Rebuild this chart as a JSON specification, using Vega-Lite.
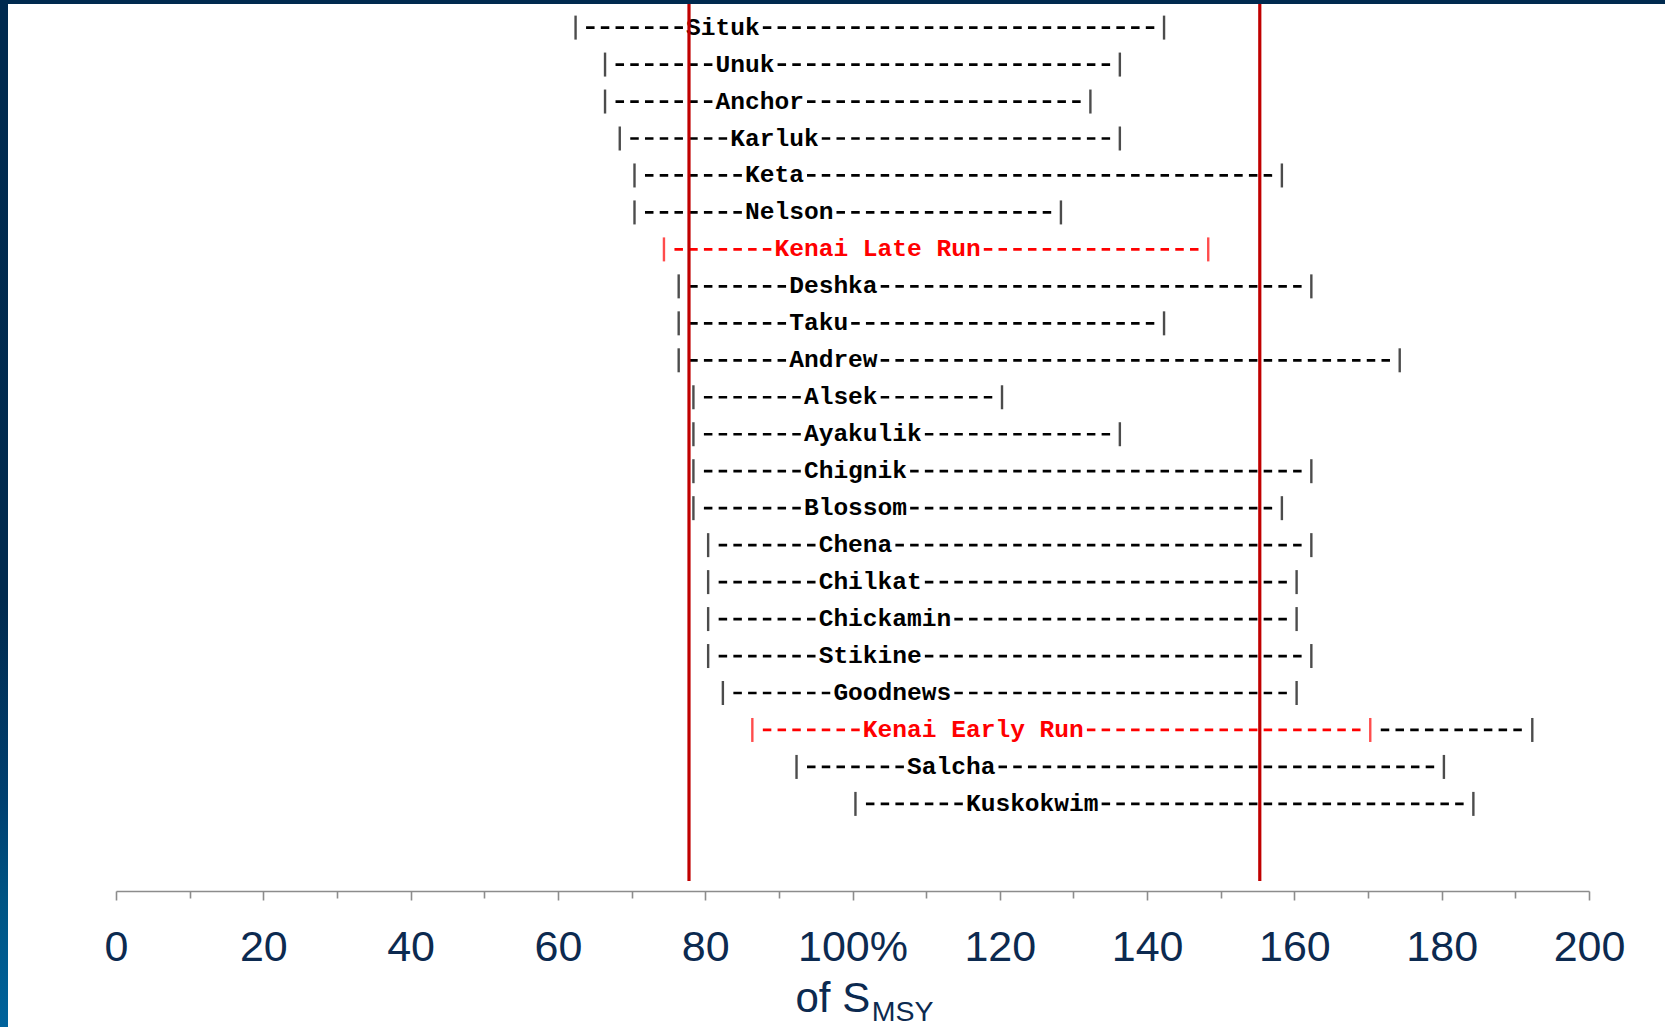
{
  "$schema": "https://vega.github.io/schema/vega-lite/v6.json",
  "padding": 0,
  "background": "white",
  "config": {"view": {"stroke": null}},
  "title": {"text": "MSY", "orient": "bottom", "anchor": "start", "frame": "group", "offset": 0, "baseline": "alphabetic", "dx": 871.7, "dy": -6.3, "font": "Liberation Sans", "fontSize": 28.5, "fontWeight": "normal", "color": "#0c2a50"},
  "spacing": 0,
  "bounds": "flush",
  "vconcat": [
    {
      "width": 1665, "height": 4,
      "data": {"values": [{}]},
      "mark": {"type": "rect", "color": "#002a4f"},
      "encoding": {}
    },
    {
      "spacing": 108,
      "bounds": "flush",
      "hconcat": [
        {
          "width": 8, "height": 1023,
          "data": {"values": [{}]},
          "mark": {"type": "rect", "color": {"gradient": "linear", "x1": 0, "y1": 0, "x2": 0, "y2": 1, "stops": [
            {"offset": 0, "color": "#002a4f"},
            {"offset": 0.58, "color": "#012a4e"},
            {"offset": 0.78, "color": "#004070"},
            {"offset": 0.88, "color": "#005585"},
            {"offset": 1, "color": "#00639c"}]}},
          "encoding": {}
        },
        {
          "width": 1473, "height": 877,
          "data": {"values": [
            {"name": "Situk", "lo": 62.4, "hi": 142.3, "ext": null, "highlight": "no"},
            {"name": "Unuk", "lo": 66.4, "hi": 136.3, "ext": null, "highlight": "no"},
            {"name": "Anchor", "lo": 66.4, "hi": 132.3, "ext": null, "highlight": "no"},
            {"name": "Karluk", "lo": 68.4, "hi": 136.3, "ext": null, "highlight": "no"},
            {"name": "Keta", "lo": 70.4, "hi": 158.3, "ext": null, "highlight": "no"},
            {"name": "Nelson", "lo": 70.4, "hi": 128.3, "ext": null, "highlight": "no"},
            {"name": "Kenai Late Run", "lo": 74.4, "hi": 148.3, "ext": null, "highlight": "yes"},
            {"name": "Deshka", "lo": 76.4, "hi": 162.3, "ext": null, "highlight": "no"},
            {"name": "Taku", "lo": 76.4, "hi": 142.3, "ext": null, "highlight": "no"},
            {"name": "Andrew", "lo": 76.4, "hi": 174.3, "ext": null, "highlight": "no"},
            {"name": "Alsek", "lo": 78.4, "hi": 120.3, "ext": null, "highlight": "no"},
            {"name": "Ayakulik", "lo": 78.4, "hi": 136.3, "ext": null, "highlight": "no"},
            {"name": "Chignik", "lo": 78.4, "hi": 162.3, "ext": null, "highlight": "no"},
            {"name": "Blossom", "lo": 78.4, "hi": 158.3, "ext": null, "highlight": "no"},
            {"name": "Chena", "lo": 80.4, "hi": 162.3, "ext": null, "highlight": "no"},
            {"name": "Chilkat", "lo": 80.4, "hi": 160.3, "ext": null, "highlight": "no"},
            {"name": "Chickamin", "lo": 80.4, "hi": 160.3, "ext": null, "highlight": "no"},
            {"name": "Stikine", "lo": 80.4, "hi": 162.3, "ext": null, "highlight": "no"},
            {"name": "Goodnews", "lo": 82.4, "hi": 160.3, "ext": null, "highlight": "no"},
            {"name": "Kenai Early Run", "lo": 86.4, "hi": 170.3, "ext": 192.3, "highlight": "yes"},
            {"name": "Salcha", "lo": 92.4, "hi": 180.3, "ext": null, "highlight": "no"},
            {"name": "Kuskokwim", "lo": 100.4, "hi": 184.3, "ext": null, "highlight": "no"}
          ]},
          "layer": [
            {
              "mark": {"type": "rule", "strokeWidth": 2.7, "strokeDash": [8.5, 6.23], "strokeDashOffset": 11.6, "xOffset": 7.365, "x2Offset": 110.5},
              "encoding": {
                "x": {"field": "lo", "type": "quantitative", "title": "of S", "scale": {"domain": [0, 200], "nice": false, "zero": false},
                  "axis": {
                    "values": [0, 10, 20, 30, 40, 50, 60, 70, 80, 90, 100, 110, 120, 130, 140, 150, 160, 170, 180, 190, 200],
                    "labelExpr": "datum.value % 20 ? '' : (datum.value === 100 ? '100%' : datum.label)",
                    "grid": false, "offset": 10,
                    "domainColor": "#8c8c8c", "domainWidth": 1.6,
                    "tickColor": "#8c8c8c", "tickWidth": 1.6,
                    "tickSize": {"condition": {"test": "datum.value % 20 === 0", "value": 9}, "value": 7},
                    "labelFont": "Liberation Sans", "labelFontSize": 43, "labelColor": "#0c2a50", "labelPadding": 26.5,
                    "labelFlush": false, "labelOverlap": false,
                    "titleFont": "Liberation Sans", "titleFontSize": 42, "titleFontWeight": "normal", "titleColor": "#0c2a50",
                    "titleX": 679, "titleY": 120, "titleAlign": "left", "titleBaseline": "alphabetic", "titleAnchor": null
                  }},
                "x2": {"field": "lo"},
                "y": {"field": "name", "type": "nominal", "sort": null, "axis": null, "scale": {"type": "point", "range": [23.6, 799.9], "padding": 0}},
                "color": {"field": "highlight", "type": "nominal", "legend": null, "scale": {"domain": ["no", "yes"], "range": ["#000000", "#ff0000"]}}
              }
            },
            {
              "transform": [{"calculate": "datum.lo + 15 + 2 * length(datum.name)", "as": "nameEnd"}],
              "mark": {"type": "rule", "strokeWidth": 2.7, "strokeDash": [8.5, 6.23], "strokeDashOffset": 11.6, "x2Offset": -7.365},
              "encoding": {
                "x": {"field": "nameEnd", "type": "quantitative", "title": "of S", "scale": {"domain": [0, 200], "nice": false, "zero": false}},
                "x2": {"field": "hi"},
                "y": {"field": "name", "type": "nominal", "sort": null, "axis": null},
                "color": {"field": "highlight", "type": "nominal", "legend": null}
              }
            },
            {
              "transform": [{"filter": "isValid(datum.ext)"}],
              "mark": {"type": "rule", "strokeWidth": 2.7, "strokeDash": [8.5, 6.23], "strokeDashOffset": 11.6, "xOffset": 7.365, "x2Offset": -7.365, "color": "#000000"},
              "encoding": {
                "x": {"field": "hi", "type": "quantitative", "title": "of S", "scale": {"domain": [0, 200], "nice": false, "zero": false}},
                "x2": {"field": "ext"},
                "y": {"field": "name", "type": "nominal", "sort": null, "axis": null}
              }
            },
            {
              "mark": {"type": "tick", "thickness": 2.4, "size": 24, "orient": "vertical"},
              "encoding": {
                "x": {"field": "lo", "type": "quantitative", "title": "of S", "scale": {"domain": [0, 200], "nice": false, "zero": false}},
                "y": {"field": "name", "type": "nominal", "sort": null, "axis": null},
                "color": {"field": "highlight", "type": "nominal", "legend": null}
              }
            },
            {
              "mark": {"type": "tick", "thickness": 2.4, "size": 24, "orient": "vertical"},
              "encoding": {
                "x": {"field": "hi", "type": "quantitative", "title": "of S", "scale": {"domain": [0, 200], "nice": false, "zero": false}},
                "y": {"field": "name", "type": "nominal", "sort": null, "axis": null},
                "color": {"field": "highlight", "type": "nominal", "legend": null}
              }
            },
            {
              "transform": [{"filter": "isValid(datum.ext)"}],
              "mark": {"type": "tick", "thickness": 2.4, "size": 24, "orient": "vertical", "color": "#000000"},
              "encoding": {
                "x": {"field": "ext", "type": "quantitative", "title": "of S", "scale": {"domain": [0, 200], "nice": false, "zero": false}},
                "y": {"field": "name", "type": "nominal", "sort": null, "axis": null}
              }
            },
            {
              "mark": {"type": "text", "font": "Liberation Mono", "fontWeight": "bold", "fontSize": 24.55, "align": "left", "baseline": "middle", "dx": 110.5},
              "encoding": {
                "x": {"field": "lo", "type": "quantitative", "title": "of S", "scale": {"domain": [0, 200], "nice": false, "zero": false}},
                "y": {"field": "name", "type": "nominal", "sort": null, "axis": null},
                "text": {"field": "name"},
                "color": {"field": "highlight", "type": "nominal", "legend": null}
              }
            },
            {
              "data": {"values": [{"limit": 77.8}, {"limit": 155.3}]},
              "mark": {"type": "rule", "color": "#c00000", "strokeWidth": 3.2},
              "encoding": {
                "x": {"field": "limit", "type": "quantitative", "title": "of S", "scale": {"domain": [0, 200], "nice": false, "zero": false}}
              }
            }
          ]
        }
      ]
    }
  ]
}
